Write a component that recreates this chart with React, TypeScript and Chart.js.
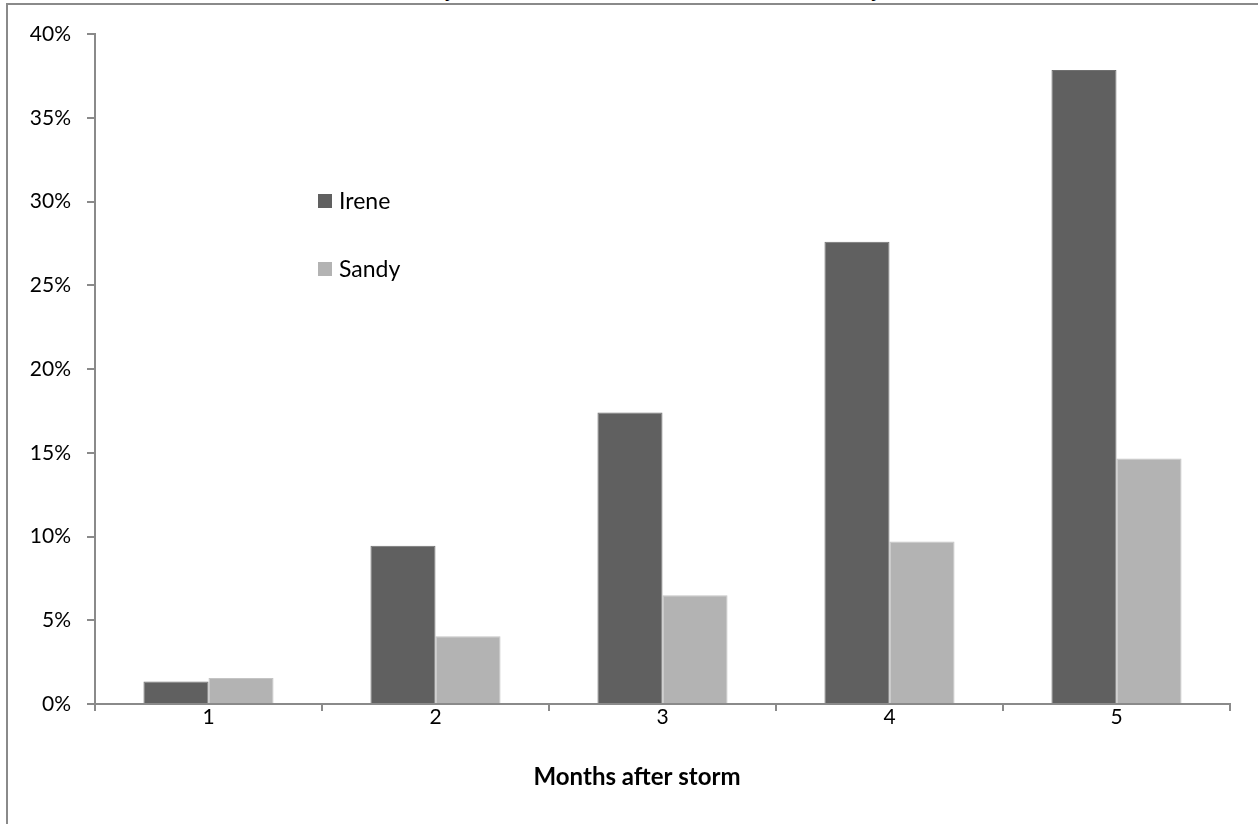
import { useEffect, useRef } from 'react';
import { Chart, registerables } from 'chart.js';

Chart.register(...registerables);

const chartTitle = 'Chart 6: Sandy and Irene-based loan modification rates by month';
const categories = ['1', '2', '3', '4', '5'];
const seriesNames = ['Irene', 'Sandy'];
const ireneValues = [1.35, 9.45, 17.4, 27.6, 37.85];
const sandyValues = [1.55, 4.05, 6.5, 9.7, 14.65];
const seriesColors = ['#606060', '#b3b3b3'];
const seriesBorders = ['#707070', '#c4c4c4'];
const yMin = 0;
const yMax = 40;
const yStep = 5;
const xAxisTitle = 'Months after storm';

const FONT = 'Lato, "Open Sans", sans-serif';

const floatingLegend = {
  id: 'floatingLegend',
  afterDraw(chart: any) {
    const ctx = chart.ctx;
    const rows = [194, 262];
    ctx.save();
    chart.data.datasets.forEach((ds: any, i: number) => {
      const y = rows[i];
      ctx.fillStyle = ds.backgroundColor;
      ctx.fillRect(318, y, 14, 14);
      ctx.fillStyle = '#000';
      ctx.font = `23px ${FONT}`;
      ctx.textBaseline = 'middle';
      ctx.textAlign = 'left';
      ctx.fillText(ds.label, 339, y + 7.5);
    });
    ctx.restore();
  },
};

const axisTitlePlugin = {
  id: 'axisTitle',
  afterDraw(chart: any) {
    const ctx = chart.ctx;
    ctx.save();
    ctx.fillStyle = '#000';
    ctx.font = `bold 24px ${FONT}`;
    ctx.textAlign = 'center';
    ctx.textBaseline = 'middle';
    ctx.fillText(xAxisTitle, 637, 777);
    ctx.restore();
  },
};

export default function App() {
  const canvasRef = useRef<HTMLCanvasElement | null>(null);

  useEffect(() => {
    const canvas = canvasRef.current;
    if (!canvas) return;
    const chart = new Chart(canvas, {
      type: 'bar',
      data: {
        labels: categories,
        datasets: [
          {
            label: seriesNames[0],
            data: ireneValues,
            backgroundColor: seriesColors[0],
            borderColor: seriesBorders[0],
            borderWidth: 1,
            categoryPercentage: 0.573,
            barPercentage: 1,
          },
          {
            label: seriesNames[1],
            data: sandyValues,
            backgroundColor: seriesColors[1],
            borderColor: seriesBorders[1],
            borderWidth: 1,
            categoryPercentage: 0.573,
            barPercentage: 1,
          },
        ],
      },
      options: {
        responsive: false,
        animation: false,
        layout: { padding: { left: 0, top: 34, right: 28, bottom: 30 } },
        plugins: {
          legend: { display: false },
          tooltip: { enabled: false },
          title: { display: false },
        },
        scales: {
          x: {
            grid: {
              display: true,
              drawOnChartArea: false,
              offset: true,
              tickLength: 7,
              color: '#8a8a8a',
              lineWidth: 2,
            },
            border: { color: '#8a8a8a', width: 2 },
            ticks: { color: '#000', font: { family: FONT, size: 21 }, padding: -6 },
            title: { display: false },
            afterFit: (axis: any) => {
              axis.height = 90;
            },
          },
          y: {
            min: yMin,
            max: yMax,
            ticks: {
              stepSize: yStep,
              color: '#000',
              font: { family: FONT, size: 21 },
              padding: 16,
              callback: (v: any) => `${v}%`,
            },
            grid: {
              drawOnChartArea: false,
              tickLength: 8,
              color: '#8a8a8a',
              lineWidth: 2,
            },
            border: { color: '#8a8a8a', width: 2 },
            afterFit: (axis: any) => {
              axis.width = 95;
            },
          },
        },
      },
      plugins: [floatingLegend, axisTitlePlugin],
    } as any);
    return () => chart.destroy();
  }, []);

  return (
    <div
      style={{
        position: 'fixed',
        left: 0,
        top: 0,
        width: 1258,
        height: 824,
        overflow: 'hidden',
        background: '#fff',
      }}
    >
      <div
        style={{
          position: 'absolute',
          left: 0,
          top: -23,
          width: 1258,
          textAlign: 'center',
          fontFamily: '"Liberation Serif", "DejaVu Serif", serif',
          fontWeight: 'bold',
          fontSize: 23,
          lineHeight: '23px',
          color: '#000',
          whiteSpace: 'nowrap',
        }}
      >
        {chartTitle}
      </div>
      <div
        style={{
          position: 'absolute',
          left: 6,
          top: 3,
          width: 1400,
          height: 1000,
          borderTop: '2px solid #8a8a8a',
          borderLeft: '2px solid #8a8a8a',
        }}
      />
      <canvas
        ref={canvasRef}
        width={1258}
        height={824}
        style={{ position: 'absolute', left: 0, top: 0 }}
      />
    </div>
  );
}
